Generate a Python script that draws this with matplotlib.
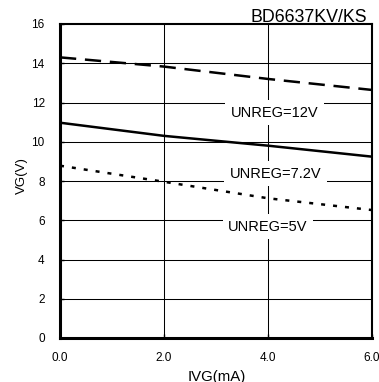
import numpy as np
import matplotlib
matplotlib.use("Agg")
import matplotlib.pyplot as plt

plt.rcParams['font.family'] = ['Liberation Sans', 'DejaVu Sans']

# IVG (mA) sample points and VG (V) for each UNREG supply
ivg = [0.0, 2.0, 4.0, 6.0]
vg_12v = [14.30, 13.83, 13.20, 12.64]
vg_72v = [10.97, 10.30, 9.80, 9.24]
vg_5v = [8.78, 7.96, 7.12, 6.52]

xticks = [0, 2, 4, 6]
xticklabels = ['0.0', '2.0', '4.0', '6.0']
yticks = [0, 2, 4, 6, 8, 10, 12, 14, 16]

fig = plt.figure(figsize=(3.79, 3.82), dpi=100)
ax = fig.add_axes([60/379, 44/382, 312/379, 314/382])

ax.set_xlim(0, 6)
ax.set_ylim(0, 16)

# grid
for y in yticks[1:-1]:
    ax.axhline(y, color='black', lw=0.75, zorder=1)
for x in xticks[1:-1]:
    ax.axvline(x, color='black', lw=0.75, zorder=1)

ax.plot(ivg, vg_12v, color='black', lw=1.8, linestyle=(0, (6.5, 3.5)), zorder=3)
ax.plot(ivg, vg_72v, color='black', lw=1.8, zorder=3)
ax.plot(ivg, vg_5v, color='black', lw=1.8, linestyle=(0, (1.6, 3.2)), zorder=3)

box = dict(facecolor='white', edgecolor='none', pad=4)
ax.text(4.13, 11.49, 'UNREG=12V', fontsize=10.5, ha='center', va='center', bbox=box, zorder=2)
ax.text(4.14, 8.37, 'UNREG=7.2V', fontsize=10.5, ha='center', va='center', bbox=box, zorder=2)
ax.text(4.0, 5.68, 'UNREG=5V', fontsize=10.5, ha='center', va='center', bbox=box, zorder=2)

ax.set_xticks(xticks)
ax.set_xticklabels(xticklabels)
ax.set_yticks(yticks)
ax.tick_params(axis='y', direction='in', length=3, width=1, pad=11, labelsize=8.5)
ax.tick_params(axis='x', direction='in', length=3, width=1, pad=10, labelsize=8.5)

ax.spines['left'].set_linewidth(2.2)
ax.spines['bottom'].set_linewidth(2.2)
ax.spines['top'].set_linewidth(1.5)
ax.spines['right'].set_linewidth(1.5)
for s in ax.spines.values():
    s.set_zorder(5)

fig.text(216.7/379, 1 - 380.5/382, 'IVG(mA)', fontsize=10.8, ha='center', va='baseline')
fig.text(22/379, 1 - 175.5/382, 'VG(V)', fontsize=9.5, rotation=90, ha='center', va='center')
ax.text(0.983, 1.007, 'BD6637KV/KS', fontsize=12.8, ha='right', va='baseline',
        transform=ax.transAxes)

fig.savefig('out.png', dpi=100)
